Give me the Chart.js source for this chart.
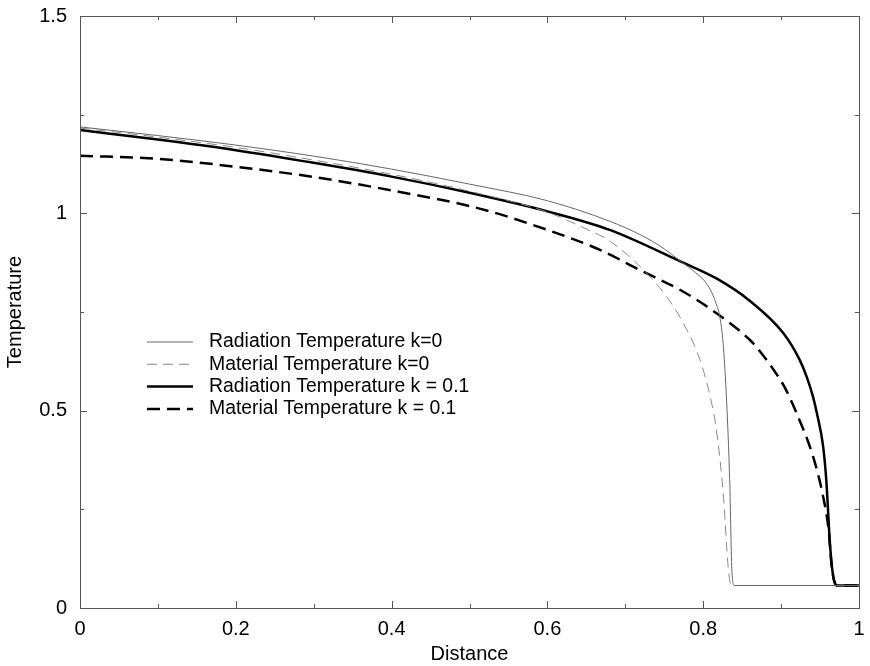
<!DOCTYPE html>
<html>
<head>
<meta charset="utf-8">
<script src="https://cdn.jsdelivr.net/npm/chart.js@4.4.1/dist/chart.umd.min.js"></script>
<style>
  html, body { margin: 0; padding: 0; background: #fff; }
  #wrap { width: 870px; height: 666px; position: relative; }
</style>
</head>
<body>
<div id="wrap"><canvas id="tempChart" width="870" height="666"></canvas></div>
<script>
// Radiation temperature, k = 0 (thin solid)
const radK0X = [0, 0.1, 0.2, 0.3, 0.4, 0.5, 0.6, 0.68, 0.72, 0.75, 0.772, 0.79, 0.805, 0.815, 0.822, 0.826, 0.83, 0.834, 0.837, 0.84, 1.0];
const radK0Y = [1.219, 1.197, 1.173, 1.145, 1.112, 1.074, 1.032, 0.98, 0.945, 0.91, 0.877, 0.85, 0.82, 0.78, 0.73, 0.66, 0.527, 0.324, 0.089, 0.057, 0.057];

// Material temperature, k = 0 (thin dashed)
const matK0X = [0, 0.1, 0.2, 0.3, 0.4, 0.5, 0.6, 0.65, 0.68, 0.719, 0.753, 0.779, 0.796, 0.809, 0.817, 0.826, 0.832, 0.836, 1.0];
const matK0Y = [1.216, 1.193, 1.167, 1.135, 1.099, 1.056, 1.003, 0.96, 0.93, 0.865, 0.789, 0.705, 0.628, 0.535, 0.451, 0.282, 0.105, 0.057, 0.057];

// Radiation temperature, k = 0.1 (thick solid)
const radK1X = [0, 0.1, 0.2, 0.3, 0.4, 0.5, 0.6, 0.68, 0.772, 0.817, 0.86, 0.903, 0.924, 0.933, 0.941, 0.946, 0.954, 0.958, 0.963, 0.967, 0.973, 1.0];
const radK1Y = [1.211, 1.187, 1.16, 1.128, 1.093, 1.052, 1.005, 0.958, 0.877, 0.835, 0.778, 0.696, 0.628, 0.585, 0.535, 0.493, 0.409, 0.324, 0.155, 0.079, 0.057, 0.057];

// Material temperature, k = 0.1 (thick dashed)
const matK1X = [0, 0.1, 0.2, 0.3, 0.4, 0.513, 0.6, 0.668, 0.719, 0.774, 0.817, 0.86, 0.873, 0.899, 0.907, 0.92, 0.941, 0.954, 0.961, 0.965, 0.971, 1.0];
const matK1Y = [1.146, 1.138, 1.118, 1.092, 1.058, 1.012, 0.958, 0.907, 0.856, 0.802, 0.747, 0.679, 0.65, 0.578, 0.55, 0.493, 0.384, 0.282, 0.198, 0.105, 0.057, 0.057];

const seriesLabels = [
  "Radiation Temperature k=0",
  "Material Temperature k=0",
  "Radiation Temperature k = 0.1",
  "Material Temperature k = 0.1",
];

const FONT = "'Liberation Sans', Arial, Helvetica, sans-serif";
const AXIS_COLOR = "#555";

function toPoints(xs, ys) {
  return xs.map((x, i) => ({ x: x, y: ys[i] }));
}

function fmt(v) {
  return String(+v.toFixed(2));
}

// Frame and inward tick marks on all four sides
const framePlugin = {
  id: "frame",
  afterDraw(chart) {
    const { ctx, chartArea: a, scales } = chart;
    ctx.save();
    ctx.strokeStyle = AXIS_COLOR;
    ctx.lineWidth = 1;
    ctx.strokeRect(a.left + 0.5, a.top + 0.5, a.right - a.left, a.bottom - a.top);
    ctx.beginPath();
    for (let i = 0; i <= 10; i++) {
      const px = Math.round(scales.x.getPixelForValue(i / 10)) + 0.5;
      const len = i % 2 === 0 ? 7 : 4;
      ctx.moveTo(px, a.bottom);
      ctx.lineTo(px, a.bottom - len);
      ctx.moveTo(px, a.top);
      ctx.lineTo(px, a.top + len);
    }
    for (let i = 0; i <= 6; i++) {
      const py = Math.round(scales.y.getPixelForValue(i * 0.25)) + 0.5;
      const len = i % 2 === 0 ? 7 : 4;
      ctx.moveTo(a.left, py);
      ctx.lineTo(a.left + len, py);
      ctx.moveTo(a.right, py);
      ctx.lineTo(a.right - len, py);
    }
    ctx.stroke();
    ctx.restore();
  },
};

// Legend drawn inside the plot area
const insideLegend = {
  id: "insideLegend",
  afterDatasetsDraw(chart) {
    const { ctx } = chart;
    const x0 = 147, x1 = 193, tx = 209;
    let y = 342;
    ctx.save();
    ctx.font = "19.4px " + FONT;
    ctx.textBaseline = "middle";
    chart.data.datasets.forEach((ds) => {
      ctx.beginPath();
      ctx.strokeStyle = ds.borderColor;
      ctx.lineWidth = ds.borderWidth;
      ctx.setLineDash(ds.borderDash || []);
      ctx.moveTo(x0, y);
      ctx.lineTo(x1, y);
      ctx.stroke();
      ctx.setLineDash([]);
      ctx.fillStyle = "#000";
      ctx.fillText(ds.label, tx, y);
      y += 22.3;
    });
    ctx.restore();
  },
};

const ctx = document.getElementById("tempChart").getContext("2d");
new Chart(ctx, {
  type: "line",
  data: {
    datasets: [
      {
        label: seriesLabels[0],
        data: toPoints(radK0X, radK0Y),
        borderColor: "#666",
        borderWidth: 1,
      },
      {
        label: seriesLabels[1],
        data: toPoints(matK0X, matK0Y),
        borderColor: "#888",
        borderWidth: 1,
        borderDash: [10, 6],
      },
      {
        label: seriesLabels[2],
        data: toPoints(radK1X, radK1Y),
        borderColor: "#000",
        borderWidth: 2.5,
      },
      {
        label: seriesLabels[3],
        data: toPoints(matK1X, matK1Y),
        borderColor: "#000",
        borderWidth: 2.5,
        borderDash: [13, 7],
      },
    ],
  },
  options: {
    responsive: false,
    animation: false,
    elements: {
      point: { radius: 0 },
      line: { cubicInterpolationMode: "monotone", fill: false },
    },
    layout: { padding: { top: 16, right: 11, left: 0, bottom: 0 } },
    plugins: {
      legend: { display: false },
      tooltip: { enabled: false },
    },
    scales: {
      x: {
        type: "linear",
        min: 0,
        max: 1,
        grid: { display: false, drawTicks: false },
        border: { display: false },
        ticks: {
          stepSize: 0.1,
          autoSkip: false,
          maxRotation: 0,
          padding: 9,
          color: "#000",
          font: { family: FONT, size: 20 },
          callback: (v) => (Math.round(v * 10) % 2 === 0 ? fmt(v) : ""),
        },
        title: {
          display: true,
          text: "Distance",
          color: "#000",
          font: { family: FONT, size: 20 },
          padding: { top: 0, bottom: 0 },
        },
        afterFit: (scale) => {
          scale.height = 58;
          scale.paddingLeft = 0;
          scale.paddingRight = 0;
        },
      },
      y: {
        type: "linear",
        min: 0,
        max: 1.5,
        grid: { display: false, drawTicks: false },
        border: { display: false },
        ticks: {
          stepSize: 0.25,
          autoSkip: false,
          padding: 13,
          color: "#000",
          font: { family: FONT, size: 20 },
          callback: (v) => (Math.round(v * 4) % 2 === 0 ? fmt(v) : ""),
        },
        title: {
          display: true,
          text: "Temperature",
          color: "#000",
          font: { family: FONT, size: 20 },
          padding: { top: 3, bottom: 0 },
        },
        afterFit: (scale) => {
          scale.width = 80;
          scale.paddingTop = 0;
          scale.paddingBottom = 0;
        },
      },
    },
  },
  plugins: [framePlugin, insideLegend],
});
</script>
</body>
</html>
